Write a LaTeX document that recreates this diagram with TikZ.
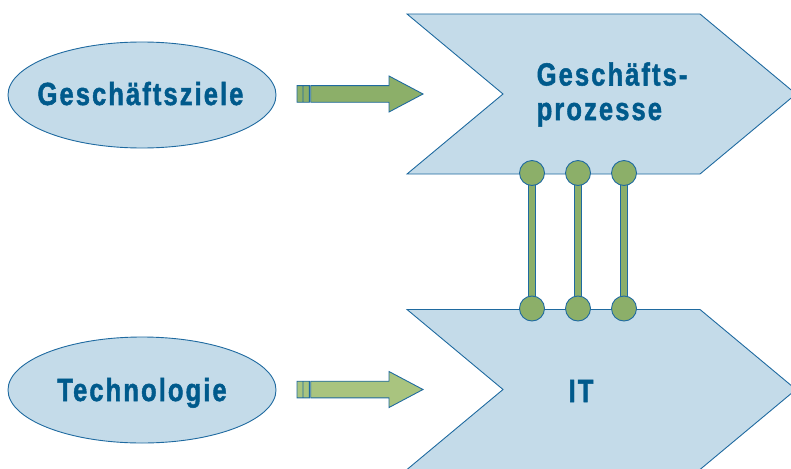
\documentclass[tikz,border=0pt]{standalone}
\usepackage{fontspec}
\setmainfont{Liberation Sans}
\usetikzlibrary{calc}
\definecolor{fillblue}{HTML}{C4DBE9}
\definecolor{lineblue}{HTML}{1F6AA0}
\definecolor{textblue}{HTML}{005A8C}
\definecolor{darkgreen}{HTML}{8CAF69}
\definecolor{lightgreen}{HTML}{A9C47F}
\newcommand\spaced[1]{\scalebox{0.8}[1]{\addfontfeature{LetterSpace=8,FakeBold=1.6}#1}}
\begin{document}
\begin{tikzpicture}[x=1pt,y=-1pt,
  shapefill/.style={fill=fillblue,draw=lineblue,line width=0.9pt},
  lbl/.style={text=textblue,font=\fontsize{32}{36}\selectfont\bfseries,inner sep=0pt},
  dot/.style={circle,minimum size=25pt,inner sep=0pt,fill=darkgreen,draw=lineblue,line width=0.9pt},
  bar/.style={draw=lineblue,line width=0.9pt,double=darkgreen,double distance=6pt},
  fatarrow/.pic={
    \path[draw=lineblue,line width=0.9pt,fill=#1]
      (0,-8.3) rectangle (6,8.3)
      (6,-8.3) rectangle (12.3,8.3)
      (13.7,-8.3) -- (92,-8.3) -- (92,-18) -- (126,0) -- (92,18) -- (92,8.3) -- (13.7,8.3) -- cycle;
  }]
\useasboundingbox (0,0) rectangle (791,468);
\clip (0,0) rectangle (791,468);

% ellipses
\draw[shapefill] (142,95) ellipse [x radius=134, y radius=53];
\draw[shapefill] (142,390) ellipse [x radius=134, y radius=53];
\node[lbl,anchor=base] (ziele) at (140.5,105) {\spaced{Geschäftsziele}};
\node[lbl,anchor=base] (tech) at (142,401) {\spaced{Technologie}};

% chevrons
\draw[shapefill] (407,14) -- (700,14) -- (796,94) -- (700,174) -- (407,174) -- (503,94) -- cycle;
\draw[shapefill] (407,309.5) -- (700,309.5) -- (796,389.5) -- (700,469.5) -- (407,469.5) -- (503,389.5) -- cycle;
\node[lbl,anchor=base west] (gp1) at (536.5,85.5) {\spaced{Geschäfts-}};
\node[lbl,anchor=base west] (gp2) at (536.5,120) {\spaced{prozesse}};
\node[lbl,anchor=base] (it) at (581,402) {\spaced{IT}};

% arrows
\coordinate (a1) at (297,94);
\coordinate (a2) at (297,389.5);
\pic at (a1) {fatarrow=darkgreen};
\pic at (a2) {fatarrow=lightgreen};

% connectors
\foreach \i/\x in {1/532,2/578,3/624}{
  \coordinate (t\i) at (\x,173);
  \coordinate (b\i) at (\x,308.5);
  \draw[bar] (t\i) -- (b\i);
  \node[dot] (tc\i) at (t\i) {};
  \node[dot] (bc\i) at (b\i) {};
}
\end{tikzpicture}
\end{document}
